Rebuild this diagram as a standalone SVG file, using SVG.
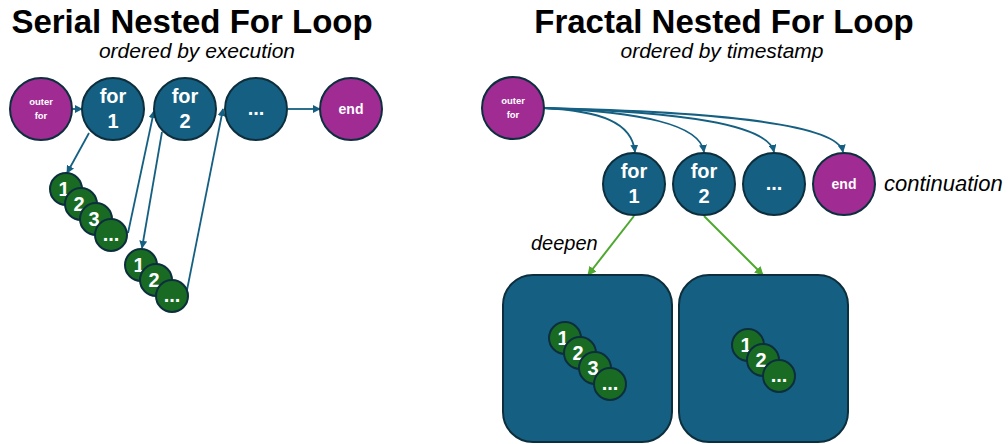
<svg xmlns="http://www.w3.org/2000/svg" width="1008" height="444" viewBox="0 0 1008 444">
  <defs>
    <style>
      .title { font-family: "Liberation Sans", Arial, sans-serif; font-weight: bold; font-size: 33px; fill: #000; text-anchor: middle; }
      .sub { font-family: "Liberation Sans", Arial, sans-serif; font-style: italic; font-size: 21px; fill: #000; text-anchor: middle; }
      .note { font-family: "Liberation Sans", Arial, sans-serif; font-style: italic; font-size: 20px; fill: #000; }
      .note.wide { font-size: 22px; }
      .blue { fill: #156082; stroke: #0c2e3d; stroke-width: 2; }
      .purple { fill: #a02b93; stroke: #0c2e3d; stroke-width: 2; }
      .green { fill: #196b24; stroke: #0c2e3d; stroke-width: 2; }
      .lbl { font-family: "Liberation Sans", Arial, sans-serif; font-weight: bold; fill: #fff; text-anchor: middle; }
      .big { font-size: 20px; }
      .mid { font-size: 14px; }
      .tiny { font-size: 9.5px; }
      .dig { font-size: 20px; }
      .conn { fill: none; stroke: #156082; stroke-width: 1.8; }
      .deep { fill: none; stroke: #4ea72e; stroke-width: 2; }
    </style>
    <marker id="ab" viewBox="0 0 10 10" refX="9" refY="5" markerWidth="8" markerHeight="8" markerUnits="userSpaceOnUse" orient="auto">
      <path d="M0,0 L10,5 L0,10 z" fill="#156082"/>
    </marker>
    <marker id="ag" viewBox="0 0 10 10" refX="9" refY="5" markerWidth="9" markerHeight="9" markerUnits="userSpaceOnUse" orient="auto">
      <path d="M0,0 L10,5 L0,10 z" fill="#4ea72e"/>
    </marker>
  </defs>

  <!-- headings -->
  <text class="title" x="192" y="33">Serial Nested For Loop</text>
  <text class="sub" x="197" y="58">ordered by execution</text>
  <text class="title" x="724" y="33">Fractal Nested For Loop</text>
  <text class="sub" x="722" y="58">ordered by timestamp</text>

  <!-- connectors -->
  <g id="connectors">
    <line class="conn" x1="73" y1="109" x2="82" y2="109" marker-end="url(#ab)"/>
    <line class="conn" x1="89" y1="133" x2="67" y2="173" marker-end="url(#ab)"/>
    <line class="conn" x1="128" y1="233" x2="154" y2="111" marker-end="url(#ab)"/>
    <line class="conn" x1="162" y1="132" x2="142" y2="248" marker-end="url(#ab)"/>
    <line class="conn" x1="187" y1="290" x2="223" y2="109" marker-end="url(#ab)"/>
    <line class="conn" x1="288" y1="109" x2="320" y2="109" marker-end="url(#ab)"/>

    <path class="conn" d="M544,108 C600,111 632,122 635,152" marker-end="url(#ab)"/>
    <path class="conn" d="M544,108 C640,112 700,124 704,152" marker-end="url(#ab)"/>
    <path class="conn" d="M544,108 C680,112 768,124 774,152" marker-end="url(#ab)"/>
    <path class="conn" d="M544,108 C720,112 838,124 843,152" marker-end="url(#ab)"/>

    <line class="deep" x1="634" y1="216" x2="588" y2="275" marker-end="url(#ag)"/>
    <line class="deep" x1="704" y1="216" x2="763" y2="275" marker-end="url(#ag)"/>
  </g>

  <!-- serial: outer loop row -->
  <g id="s-outer">
    <circle class="purple" cx="41" cy="109" r="31"/>
    <text class="lbl tiny" x="41" y="105">outer</text>
    <text class="lbl tiny" x="41" y="119">for</text>
  </g>
  <g id="s-for1">
    <circle class="blue" cx="113" cy="109" r="31"/>
    <text class="lbl big" x="113" y="103">for</text>
    <text class="lbl big" x="113" y="128">1</text>
  </g>
  <g id="s-for2">
    <circle class="blue" cx="185" cy="109" r="31"/>
    <text class="lbl big" x="185" y="103">for</text>
    <text class="lbl big" x="185" y="128">2</text>
  </g>
  <g id="s-more">
    <circle class="blue" cx="256" cy="109" r="31"/>
    <text class="lbl big" x="256" y="115">...</text>
  </g>
  <g id="s-end">
    <circle class="purple" cx="351" cy="109" r="31"/>
    <text class="lbl mid" x="351" y="114">end</text>
  </g>

  <!-- serial: inner iterations of for 1 -->
  <g id="s-inner1">
    <circle class="green" cx="66" cy="189" r="16"/>
    <text class="lbl dig" x="64" y="196">1</text>
    <circle class="green" cx="81" cy="204" r="16"/>
    <text class="lbl dig" x="79" y="211">2</text>
    <circle class="green" cx="96" cy="219" r="16"/>
    <text class="lbl dig" x="94" y="226">3</text>
    <circle class="green" cx="111" cy="235" r="16"/>
    <text class="lbl dig" x="111" y="241">...</text>
  </g>

  <!-- serial: inner iterations of for 2 -->
  <g id="s-inner2">
    <circle class="green" cx="141" cy="265" r="16"/>
    <text class="lbl dig" x="139" y="272">1</text>
    <circle class="green" cx="156" cy="280" r="16"/>
    <text class="lbl dig" x="154" y="287">2</text>
    <circle class="green" cx="172" cy="296" r="16"/>
    <text class="lbl dig" x="172" y="302">...</text>
  </g>

  <!-- fractal: outer loop -->
  <g id="f-outer">
    <circle class="purple" cx="513" cy="108" r="31"/>
    <text class="lbl tiny" x="513" y="104">outer</text>
    <text class="lbl tiny" x="513" y="118">for</text>
  </g>
  <g id="f-for1">
    <circle class="blue" cx="634" cy="184" r="31"/>
    <text class="lbl big" x="634" y="178">for</text>
    <text class="lbl big" x="634" y="203">1</text>
  </g>
  <g id="f-for2">
    <circle class="blue" cx="704" cy="184" r="31"/>
    <text class="lbl big" x="704" y="178">for</text>
    <text class="lbl big" x="704" y="203">2</text>
  </g>
  <g id="f-more">
    <circle class="blue" cx="774" cy="184" r="31"/>
    <text class="lbl big" x="774" y="190">...</text>
  </g>
  <g id="f-end">
    <circle class="purple" cx="844" cy="184" r="31"/>
    <text class="lbl mid" x="844" y="189">end</text>
  </g>
  <text class="note wide" x="884" y="191">continuation</text>
  <text class="note" x="531" y="250">deepen</text>

  <!-- fractal: nested scope of for 1 -->
  <g id="f-scope1">
    <rect class="blue" x="503" y="275" width="169" height="167" rx="30"/>
    <circle class="green" cx="565" cy="338" r="16"/>
    <text class="lbl dig" x="563" y="345">1</text>
    <circle class="green" cx="580" cy="353" r="16"/>
    <text class="lbl dig" x="578" y="360">2</text>
    <circle class="green" cx="595" cy="368" r="16"/>
    <text class="lbl dig" x="593" y="375">3</text>
    <circle class="green" cx="610" cy="384" r="16"/>
    <text class="lbl dig" x="610" y="390">...</text>
  </g>

  <!-- fractal: nested scope of for 2 -->
  <g id="f-scope2">
    <rect class="blue" x="679" y="275" width="169" height="167" rx="30"/>
    <circle class="green" cx="748" cy="345" r="16"/>
    <text class="lbl dig" x="746" y="352">1</text>
    <circle class="green" cx="763" cy="360" r="16"/>
    <text class="lbl dig" x="761" y="367">2</text>
    <circle class="green" cx="779" cy="376" r="16"/>
    <text class="lbl dig" x="779" y="382">...</text>
  </g>
</svg>
